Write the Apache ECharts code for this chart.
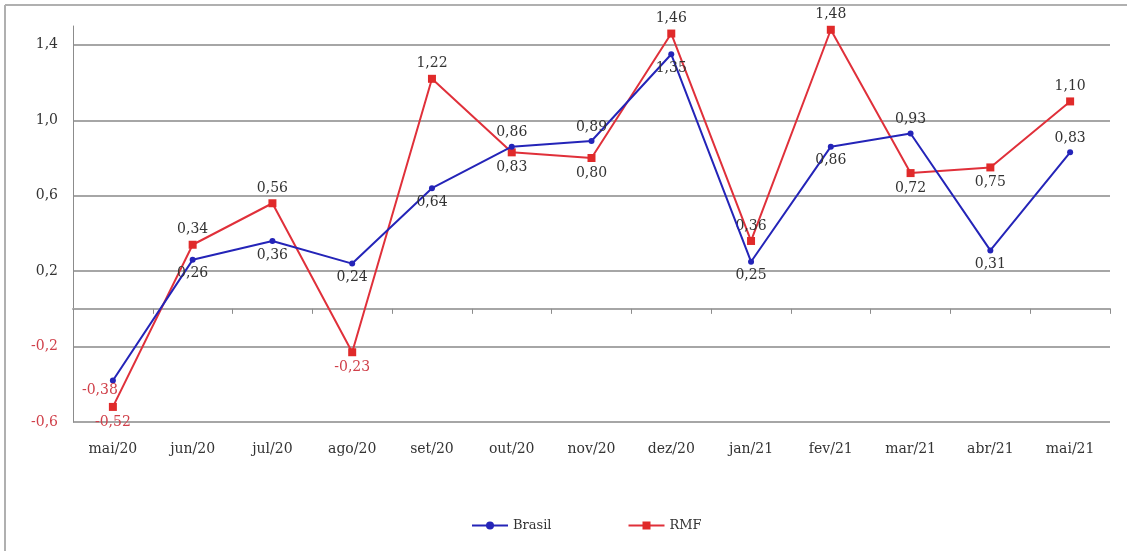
<!DOCTYPE html>
<html>
<head>
<meta charset="utf-8">
<script src="https://cdn.jsdelivr.net/npm/echarts@6/dist/echarts.min.js"></script>
<style>
html,body{margin:0;padding:0;background:#fff;}
#c{width:1127px;height:551px;}
</style>
</head>
<body>
<div id="c"></div>
<script>
const categories = ['mai/20','jun/20','jul/20','ago/20','set/20','out/20','nov/20','dez/20','jan/21','fev/21','mar/21','abr/21','mai/21'];
const brasil = [-0.38, 0.26, 0.36, 0.24, 0.64, 0.86, 0.89, 1.35, 0.25, 0.86, 0.93, 0.31, 0.83];
const rmf = [-0.52, 0.34, 0.56, -0.23, 1.22, 0.83, 0.80, 1.46, 0.36, 1.48, 0.72, 0.75, 1.10];
const yTickLabels = [-0.6, -0.2, 0.2, 0.6, 1.0, 1.4];

// label placement (style only)
const brasilLabelPos = ['left','bottom','bottom','bottom','bottom','top','top','bottom','bottom','bottom','top','bottom','top'];
const rmfLabelPos = ['bottom','top','top','bottom','top','bottom','bottom','top','top','top','bottom','bottom','top'];

const FONT = '"DejaVu Serif", "Liberation Serif", serif';
const TXT = '#333333';
const NEG = '#d0404a';

function fmt(v){ return v.toFixed(2).replace('.', ','); }

function mkData(vals, pos){
  return vals.map((v,i)=>({
    value: v,
    label: {
      position: pos[i],
      color: v < 0 ? NEG : TXT,
      distance: pos[i]==='left' ? 2 : 4,
      offset: pos[i]==='left' ? [10,10] : [0,0]
    }
  }));
}

const chart = echarts.init(document.getElementById('c'), null, {renderer:'canvas'});
chart.setOption({
  backgroundColor: '#fff',
  animation: false,
  textStyle: { fontFamily: FONT },
  graphic: [
    { type:'line', shape:{x1:5,y1:5,x2:1127,y2:5}, style:{stroke:'#b0b0b0', lineWidth:2}, silent:true },
    { type:'line', shape:{x1:5,y1:5,x2:5,y2:551}, style:{stroke:'#b0b0b0', lineWidth:2}, silent:true }
  ],
  grid: { left: 73, right: 17, top: 26, bottom: 129 },
  legend: {
    bottom: 14,
    left: 466,
    itemGap: 76,
    itemWidth: 36,
    itemHeight: 10,
    textStyle: { fontFamily: FONT, fontSize: 13, color: TXT },
    data: ['Brasil','RMF']
  },
  xAxis: [
    {
      type: 'category',
      data: categories,
      boundaryGap: true,
      position: 'bottom',
      axisLine: { show: false, onZero: false },
      axisTick: { show: false },
      axisLabel: { margin: 20, fontFamily: FONT, fontSize: 14, color: TXT, interval: 0 }
    },
    {
      type: 'category',
      data: categories,
      boundaryGap: true,
      position: 'bottom',
      axisLine: { show: true, onZero: true, lineStyle: { color: '#a6a6a6', width: 2 } },
      axisTick: { show: true, inside: false, length: 5, lineStyle: { color: '#8c8c8c', width: 1 } },
      axisLabel: { show: false }
    }
  ],
  yAxis: {
    type: 'value',
    min: -0.6,
    max: 1.5,
    interval: 0.2,
    axisLine: { show: true, lineStyle: { color: '#8c8c8c', width: 1 } },
    axisTick: { show: false },
    axisLabel: {
      showMaxLabel: false,
      margin: 15,
      fontFamily: FONT,
      fontSize: 14,
      formatter: function(v){
        const hit = yTickLabels.some(t => Math.abs(t - v) < 1e-6);
        if (!hit) return '';
        const s = v.toFixed(1).replace('.', ',');
        return v < 0 ? '{neg|' + s + '}' : '{pos|' + s + '}';
      },
      rich: {
        pos: { color: TXT, fontFamily: FONT, fontSize: 14 },
        neg: { color: NEG, fontFamily: FONT, fontSize: 14 }
      }
    },
    splitLine: {
      show: true,
      showMaxLine: false,
      lineStyle: { color: ['#a6a6a6', 'rgba(0,0,0,0)'], width: 2 }
    }
  },
  series: [
    {
      name: 'Brasil',
      type: 'line',
      data: mkData(brasil, brasilLabelPos),
      symbol: 'circle',
      symbolSize: 6,
      z: 3,
      itemStyle: { color: '#2424b8' },
      lineStyle: { color: '#2424b8', width: 2 },
      label: { show: true, fontFamily: FONT, fontSize: 14, formatter: p => fmt(p.value) }
    },
    {
      name: 'RMF',
      type: 'line',
      data: mkData(rmf, rmfLabelPos),
      symbol: 'rect',
      symbolSize: 8,
      z: 2,
      itemStyle: { color: '#e02a2a' },
      lineStyle: { color: '#e0303a', width: 2 },
      label: { show: true, fontFamily: FONT, fontSize: 14, formatter: p => fmt(p.value) }
    }
  ]
});
</script>
</body>
</html>
